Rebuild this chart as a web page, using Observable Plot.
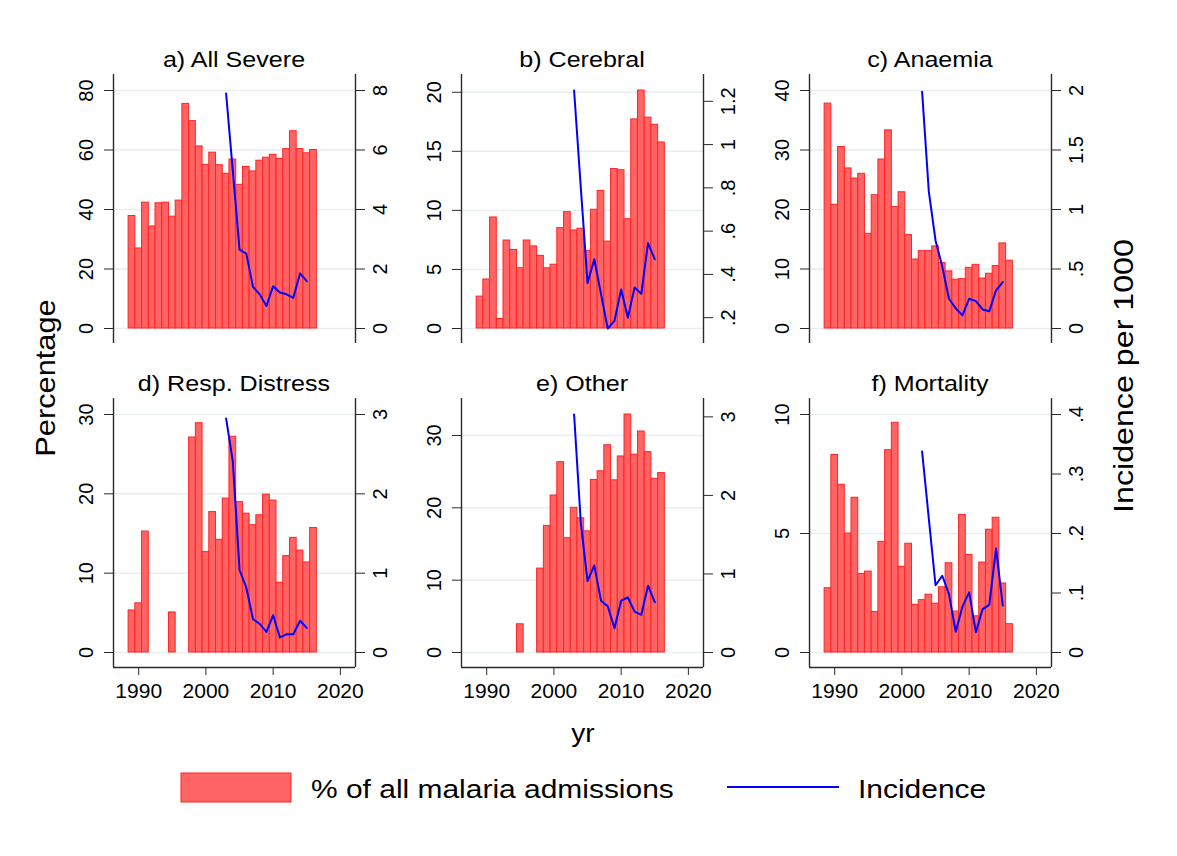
<!DOCTYPE html>
<html>
<head>
<meta charset="utf-8">
<script src="https://cdn.jsdelivr.net/npm/d3@7"></script>
<script src="https://cdn.jsdelivr.net/npm/@observablehq/plot@0.6"></script>
<style>
  html, body { margin: 0; padding: 0; background: #fff; }
  #wrap { position: relative; width: 1177px; height: 856px; font-family: "Liberation Sans", Arial, sans-serif; overflow: hidden; }
  .panel { position: absolute; }
  .panel svg { overflow: visible; }
  #overlay { position: absolute; left: 0; top: 0; pointer-events: none; }
</style>
</head>
<body>
<div id="wrap"></div>
<script>
// ---------- data ----------
const years = [1989,1990,1991,1992,1993,1994,1995,1996,1997,1998,1999,2000,2001,2002,2003,2004,2005,2006,2007,2008,2009,2010,2011,2012,2013,2014,2015,2016];
const incYears = [2003,2004,2005,2006,2007,2008,2009,2010,2011,2012,2013,2014,2015];

const pctAllSevere = [37.8,26.9,42.3,34.3,42.1,42.3,37.6,43.0,75.5,69.7,61.2,55.0,59.1,54.9,52.0,56.8,48.3,54.3,52.8,56.4,57.4,58.4,57.0,60.3,66.3,60.3,58.9,60.0];
const pctCerebral = [2.7,4.15,9.4,0.8,7.45,6.65,5.1,7.45,6.95,6.15,5.1,5.4,8.5,9.85,8.3,8.45,6.55,10.05,11.65,7.35,13.5,13.4,9.25,17.7,20.15,17.85,17.25,15.75];
const pctAnaemia = [37.8,20.8,30.5,26.9,25.2,26.0,15.9,22.4,28.4,33.3,20.4,22.9,15.7,11.6,13.0,13.0,13.8,11.0,9.6,8.2,8.3,10.2,10.7,8.4,9.2,10.5,14.3,11.4];
const pctResp = [5.3,6.2,15.25,null,null,null,5.05,null,null,27.1,28.9,12.65,17.7,14.2,19.4,27.2,18.95,17.5,16.05,17.3,19.9,19.15,8.8,12.15,14.45,12.85,11.35,15.7];
const pctOther = [null,null,null,null,null,null,3.9,null,null,11.6,17.5,21.7,26.3,15.8,20.0,18.55,16.75,23.85,25.05,28.65,23.8,27.1,32.9,27.35,30.55,27.7,24.0,24.8];
const pctMortality = [2.7,8.3,7.05,5.0,6.5,3.3,3.4,1.7,4.65,8.5,9.65,3.6,4.57,2.0,2.2,2.43,2.05,2.74,3.75,1.72,5.78,4.1,1.52,3.78,5.16,5.66,2.9,1.19];

const incAllSevere = [7.9,5.3,2.65,2.52,1.40,1.15,0.76,1.42,1.21,1.15,1.03,1.85,1.59];
const incCerebral = [1.25,0.80,0.36,0.47,0.31,0.15,0.185,0.33,0.20,0.34,0.31,0.545,0.47];
const incAnaemia = [1.99,1.15,0.74,0.52,0.25,0.17,0.11,0.25,0.23,0.16,0.145,0.32,0.39];
const incResp = [2.95,2.41,1.04,0.82,0.42,0.36,0.26,0.47,0.19,0.23,0.23,0.40,0.31];
const incOther = [3.03,1.65,0.91,1.11,0.66,0.59,0.31,0.66,0.70,0.52,0.48,0.85,0.64];
const incMortality = [0.338,0.225,0.113,0.129,0.098,0.035,0.077,0.101,0.034,0.073,0.080,0.175,0.079];

const titles = ["a) All Severe","b) Cerebral","c) Anaemia","d) Resp. Distress","e) Other","f) Mortality"];
const leftTicks = [[0,20,40,60,80],[0,5,10,15,20],[0,10,20,30,40],[0,10,20,30],[0,10,20,30],[0,5,10]];
const rightTicks = [[0,2,4,6,8],[0.2,0.4,0.6,0.8,1,1.2],[0,0.5,1,1.5,2],[0,1,2,3],[0,1,2,3],[0,0.1,0.2,0.3,0.4]];
const rightTickLabels = [["0","2","4","6","8"],[".2",".4",".6",".8","1","1.2"],["0",".5","1","1.5","2"],["0","1","2","3"],["0","1","2","3"],["0",".1",".2",".3",".4"]];
const xTicks = [1990,2000,2010,2020];
// axis ranges (left: percentage, right: incidence)
const leftRange = [[0,80],[0,20.15],[0,40],[0,30],[0,32.9],[0,10]];
const rightRange = [[0,8],[0.15,1.25],[0,2],[0,3],[0,3.03],[0,0.4]];

const pctSeries = [pctAllSevere,pctCerebral,pctAnaemia,pctResp,pctOther,pctMortality];
const incSeries = [incAllSevere,incCerebral,incAnaemia,incResp,incOther,incMortality];

const legendLabels = ["% of all malaria admissions","Incidence"];
const yTitle = "Percentage", y2Title = "Incidence per 1000", xTitle = "yr";

// ---------- layout ----------
const FONT = '"Liberation Sans", Arial, sans-serif';
const W = 348, ML = 50, MR = 56, MT = 45, FRAME_H = 269, DATA_TOP_PAD = 16, DATA_BOT_PAD = 15;
const DATA_H = FRAME_H - DATA_TOP_PAD - DATA_BOT_PAD;
const colX = [113, 461, 809];
const rowTop = [74, 398];
const FRAME_W = W - ML - MR;
const xDomain = [1986.25, 2022.25];
const BAR_FILL = "#ff6464", BAR_STROKE = "#ff2424", LINE_COLOR = "#0000ff", AXIS = "#2a2a2a", GRID = "#e6eef1";
const STRETCH = 1.14;

const wrap = document.getElementById("wrap");

function panel(i) {
  const row = Math.floor(i / 3), col = i % 3;
  const [L0, L1] = leftRange[i], [R0, R1] = rightRange[i];
  const toLeft = v => L0 + (v - R0) * (L1 - L0) / (R1 - R0);
  const span = L1 - L0;
  const yDom = [L0 - span * DATA_BOT_PAD / DATA_H, L1 + span * DATA_TOP_PAD / DATA_H];
  const bars = years.map((y, k) => ({year: y, v: pctSeries[i][k]})).filter(d => d.v != null);
  const inc = incYears.map((y, k) => ({year: y, v: incSeries[i][k]}));
  const rTicksL = rightTicks[i].map(toLeft);
  const rLabel = y => {
    let best = 0;
    rTicksL.forEach((t, k) => { if (Math.abs(t - y) < Math.abs(rTicksL[best] - y)) best = k; });
    return rightTickLabels[i][best];
  };
  const MB = row === 1 ? 45 : 2;
  const marks = [
    Plot.gridY(leftTicks[i], {stroke: GRID, strokeOpacity: 1, strokeWidth: 1.5}),
    Plot.rect(bars, {x1: d => d.year - 0.5, x2: d => d.year + 0.5, y1: d => 0, y2: "v", fill: BAR_FILL, stroke: BAR_STROKE, strokeWidth: 1}),
    Plot.line(inc, {x: "year", y: d => toLeft(d.v), stroke: LINE_COLOR, strokeWidth: 2}),
    Plot.ruleX([xDomain[0], xDomain[1]], {stroke: AXIS, strokeWidth: 1.4}),
    Plot.axisY(leftTicks[i], {anchor: "left", tickSize: 9, tickPadding: 12, tickRotate: -90, tickFormat: d => String(d), fontSize: 20, stroke: AXIS, label: null}),
    Plot.axisY(rTicksL, {anchor: "right", tickSize: 9, tickPadding: 22, tickRotate: -90, tickFormat: rLabel, fontSize: 20, stroke: AXIS, label: null})
  ];
  if (row === 1) {
    marks.push(Plot.ruleY([yDom[0]], {stroke: AXIS, strokeWidth: 1.4}));
    marks.push(Plot.axisX(xTicks, {anchor: "bottom", tickSize: 8, tickPadding: 8, tickFormat: "d", fontSize: 21, stroke: AXIS, label: null}));
  }
  const svg = Plot.plot({
    width: W, height: MT + FRAME_H + MB,
    marginLeft: ML, marginRight: MR, marginTop: MT, marginBottom: MB,
    style: {fontFamily: FONT, background: "transparent", color: "black", overflow: "visible"},
    x: {domain: xDomain, axis: null},
    y: {domain: yDom, axis: null},
    marks
  });
  const div = document.createElement("div");
  div.className = "panel";
  div.style.left = (colX[col] - ML) + "px";
  div.style.top = (rowTop[row] - MT) + "px";
  div.appendChild(svg);
  wrap.appendChild(div);
}
for (let i = 0; i < 6; i++) panel(i);

// ---------- titles, axis titles and legend ----------
const ns = "http://www.w3.org/2000/svg";
const ov = document.createElementNS(ns, "svg");
ov.setAttribute("id", "overlay");
ov.setAttribute("width", 1177); ov.setAttribute("height", 856);
ov.style.fontFamily = FONT;
wrap.appendChild(ov);
function txt(s, x, y, size, opts = {}) {
  const t = document.createElementNS(ns, "text");
  t.textContent = s;
  t.setAttribute("x", x); t.setAttribute("y", y);
  t.setAttribute("font-size", size);
  t.setAttribute("fill", "black");
  if (opts.anchor) t.setAttribute("text-anchor", opts.anchor);
  if (opts.rotate) t.setAttribute("transform", `rotate(${opts.rotate} ${x} ${y})`);
  ov.appendChild(t);
  const f = opts.stretch || STRETCH;
  const L = t.getComputedTextLength();
  t.setAttribute("textLength", (L * f).toFixed(1));
  t.setAttribute("lengthAdjust", "spacingAndGlyphs");
  return t;
}
titles.forEach((s, i) => {
  const row = Math.floor(i / 3), col = i % 3;
  txt(s, colX[col] + FRAME_W / 2, rowTop[row] - 7.5, 22, {anchor: "middle"});
});
txt(yTitle, 55, 378, 28, {anchor: "middle", rotate: -90, stretch: 1.1});
txt(y2Title, 1133, 376, 28, {anchor: "middle", rotate: -90, stretch: 1.15});
txt(xTitle, 583, 742, 26, {anchor: "middle", stretch: 1.08});
const box = document.createElementNS(ns, "rect");
box.setAttribute("x", 181); box.setAttribute("y", 773); box.setAttribute("width", 110); box.setAttribute("height", 29);
box.setAttribute("fill", BAR_FILL); box.setAttribute("stroke", BAR_STROKE); box.setAttribute("stroke-width", 1);
ov.appendChild(box);
txt(legendLabels[0], 311, 798, 26.5, {stretch: 1.13});
const ln = document.createElementNS(ns, "line");
ln.setAttribute("x1", 727); ln.setAttribute("x2", 839); ln.setAttribute("y1", 787); ln.setAttribute("y2", 787);
ln.setAttribute("stroke", LINE_COLOR); ln.setAttribute("stroke-width", 2);
ov.appendChild(ln);
txt(legendLabels[1], 858, 798, 26.5, {stretch: 1.13});
</script>
</body>
</html>
